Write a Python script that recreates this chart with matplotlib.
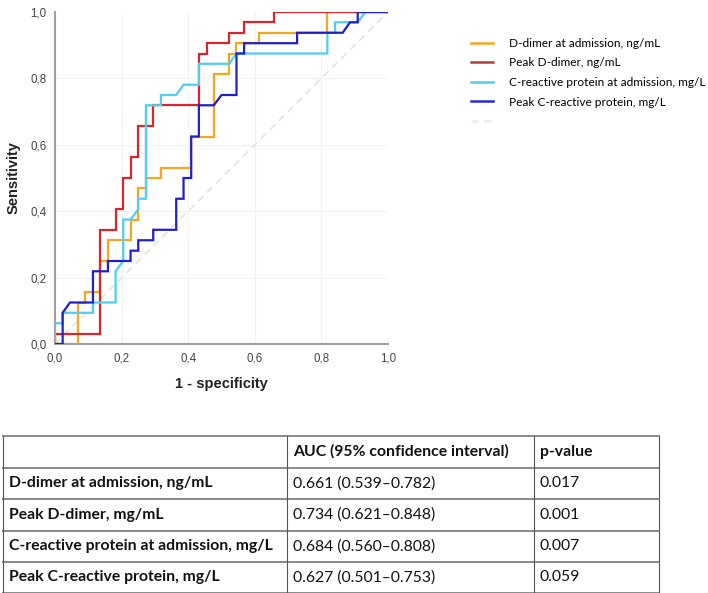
import matplotlib
matplotlib.use("Agg")
import matplotlib.pyplot as plt
from matplotlib.lines import Line2D

# ---------------- data ----------------
series_names = ["D-dimer at admission, ng/mL", "Peak D-dimer, ng/mL",
                "C-reactive protein at admission, mg/L", "Peak C-reactive protein, mg/L"]
series_colors = ["#f5a623", "#d8262c", "#52cdf0", "#2020c8"]
legend_colors = ["#f5a623", "#b0403a", "#52cdf0", "#2a2ad0"]

dd_adm_x = [0, 0.068, 0.068, 0.091, 0.091, 0.136, 0.136, 0.159, 0.159, 0.227, 0.227, 0.25, 0.25,
            0.273, 0.273, 0.318, 0.318, 0.409, 0.409, 0.477, 0.477, 0.523, 0.523, 0.545, 0.545,
            0.614, 0.614, 0.818, 0.818, 1.0]
dd_adm_y = [0, 0, 0.125, 0.125, 0.156, 0.156, 0.25, 0.25, 0.3125, 0.3125, 0.375, 0.375, 0.469,
            0.469, 0.5, 0.5, 0.531, 0.531, 0.625, 0.625, 0.8125, 0.8125, 0.875, 0.875, 0.906,
            0.906, 0.9375, 0.9375, 1.0, 1.0]

dd_peak_x = [0, 0, 0.136, 0.136, 0.182, 0.182, 0.205, 0.205, 0.227, 0.227, 0.25, 0.25, 0.295,
             0.295, 0.432, 0.432, 0.455, 0.455, 0.523, 0.523, 0.568, 0.568, 0.659, 0.659, 1.0]
dd_peak_y = [0, 0.031, 0.031, 0.344, 0.344, 0.406, 0.406, 0.5, 0.5, 0.5625, 0.5625, 0.656, 0.656,
             0.719, 0.719, 0.875, 0.875, 0.906, 0.906, 0.938, 0.938, 0.969, 0.969, 1.0, 1.0]

crp_adm_x = [0, 0, 0.023, 0.023, 0.114, 0.114, 0.182, 0.182, 0.205, 0.205, 0.227, 0.25, 0.25,
             0.273, 0.273, 0.318, 0.318, 0.364, 0.386, 0.432, 0.432, 0.523, 0.545, 0.818, 0.818,
             0.841, 0.841, 0.909, 0.932, 1.0]
crp_adm_y = [0, 0.0625, 0.0625, 0.094, 0.094, 0.125, 0.125, 0.219, 0.25, 0.375, 0.375, 0.406,
             0.4375, 0.4375, 0.719, 0.719, 0.75, 0.75, 0.781, 0.781, 0.844, 0.844, 0.875, 0.875,
             0.9375, 0.9375, 0.969, 0.969, 1.0, 1.0]

crp_peak_x = [0, 0.023, 0.023, 0.045, 0.114, 0.114, 0.159, 0.159, 0.227, 0.227, 0.25, 0.25,
              0.295, 0.295, 0.364, 0.364, 0.386, 0.386, 0.409, 0.409, 0.432, 0.432, 0.477, 0.5,
              0.545, 0.545, 0.568, 0.568, 0.727, 0.727, 0.864, 0.886, 0.909, 0.909, 1.0]
crp_peak_y = [0, 0, 0.094, 0.125, 0.125, 0.219, 0.219, 0.25, 0.25, 0.281, 0.281, 0.3125, 0.3125,
              0.344, 0.344, 0.4375, 0.4375, 0.5, 0.5, 0.625, 0.625, 0.719, 0.719, 0.75, 0.75,
              0.875, 0.875, 0.906, 0.906, 0.9375, 0.9375, 0.969, 0.969, 1.0, 1.0]

curves_x = [dd_adm_x, dd_peak_x, crp_adm_x, crp_peak_x]
curves_y = [dd_adm_y, dd_peak_y, crp_adm_y, crp_peak_y]

tick_values = [0.0, 0.2, 0.4, 0.6, 0.8, 1.0]
tick_labels = ["0,0", "0,2", "0,4", "0,6", "0,8", "1,0"]

table_header = ["", "AUC (95% confidence interval)", "p-value"]
table_rows = ["D-dimer at admission, ng/mL", "Peak D-dimer, mg/mL",
              "C-reactive protein at admission, mg/L", "Peak C-reactive protein, mg/L"]
table_auc = ["0.661 (0.539\u20130.782)", "0.734 (0.621\u20130.848)",
             "0.684 (0.560\u20130.808)", "0.627 (0.501\u20130.753)"]
table_p = ["0.017", "0.001", "0.007", "0.059"]

# ---------------- figure ----------------
W, H = 708, 593
fig = plt.figure(figsize=(W / 100, H / 100), dpi=100)
fig.patch.set_facecolor("white")

ax = fig.add_axes([55 / W, 1 - 344 / H, (388 - 55) / W, (344 - 12) / H])
ax.set_xlim(0, 1)
ax.set_ylim(0, 1)

# faint grid
for v in tick_values[1:-1]:
    ax.axhline(v, color="#f2f2f2", lw=0.8, zorder=0)
    ax.axvline(v, color="#f2f2f2", lw=0.8, zorder=0)

# reference diagonal
ax.plot([0, 1], [0, 1], color="#e6e6dc", lw=1.3, ls=(0, (4, 3)), zorder=1)

for i, (cx, cy) in enumerate(zip(curves_x, curves_y)):
    ax.plot(cx, cy, color=series_colors[i], lw=1.6, zorder=2 + i, solid_joinstyle="miter")

for s in ["top", "right"]:
    ax.spines[s].set_visible(False)
for s in ["left", "bottom"]:
    ax.spines[s].set_color("#a0a0a0")
    ax.spines[s].set_linewidth(1.5)

ax.set_xticks(tick_values)
ax.set_xticklabels(tick_labels)
ax.set_yticks(tick_values)
ax.set_yticklabels(tick_labels)
ax.tick_params(length=0, pad=6, labelsize=8.3, colors="#444444")
for lab in ax.get_xticklabels() + ax.get_yticklabels():
    lab.set_family("Liberation Sans")

ax.set_xlabel("1 - specificity", fontsize=10.5, fontweight="bold", family="Liberation Sans",
              color="#222222", labelpad=9)
ax.set_ylabel("Sensitivity", fontsize=10.5, fontweight="bold", family="Liberation Sans",
              color="#222222", labelpad=7)

# legend
handles = [Line2D([], [], color=c, lw=1.8) for c in legend_colors]
handles.append(Line2D([], [], color="#ececec", lw=1.8, ls=(0, (3, 2))))
labels = series_names + [" "]
fig.legend(handles, labels, loc="upper left", bbox_to_anchor=(460 / W, 1 - 27 / H),
           frameon=False, handlelength=1.9, handletextpad=1.3,
           labelspacing=0.72, prop={"family": "Lato", "size": 8.6})

# ---------------- table ----------------
tax = fig.add_axes([0, 0, 1, 1], zorder=-1)
tax.set_xlim(0, W)
tax.set_ylim(H, 0)
tax.axis("off")

col_edges = [3, 287, 534, 659]
row_edges = [436, 467.5, 499, 530.5, 562, 592.5]
for y in row_edges:
    tax.plot([col_edges[0], col_edges[-1]], [y, y], color="#8a8a8a", lw=1.4)
for x in col_edges:
    tax.plot([x, x], [row_edges[0], row_edges[-1]], color="#555555", lw=0.8)

tfont = {"family": "Lato", "size": 11.3}
cells = [table_header] + [[r, a, p] for r, a, p in zip(table_rows, table_auc, table_p)]
for ri, row in enumerate(cells):
    yc = (row_edges[ri] + row_edges[ri + 1]) / 2
    for ci, txt in enumerate(row):
        bold = (ri == 0) or (ci == 0)
        tax.text(col_edges[ci] + 6, yc, txt, ha="left", va="center",
                 fontweight="bold" if bold else "normal", color="#111111", **tfont)

fig.savefig("out.png", dpi=100, facecolor="white")
